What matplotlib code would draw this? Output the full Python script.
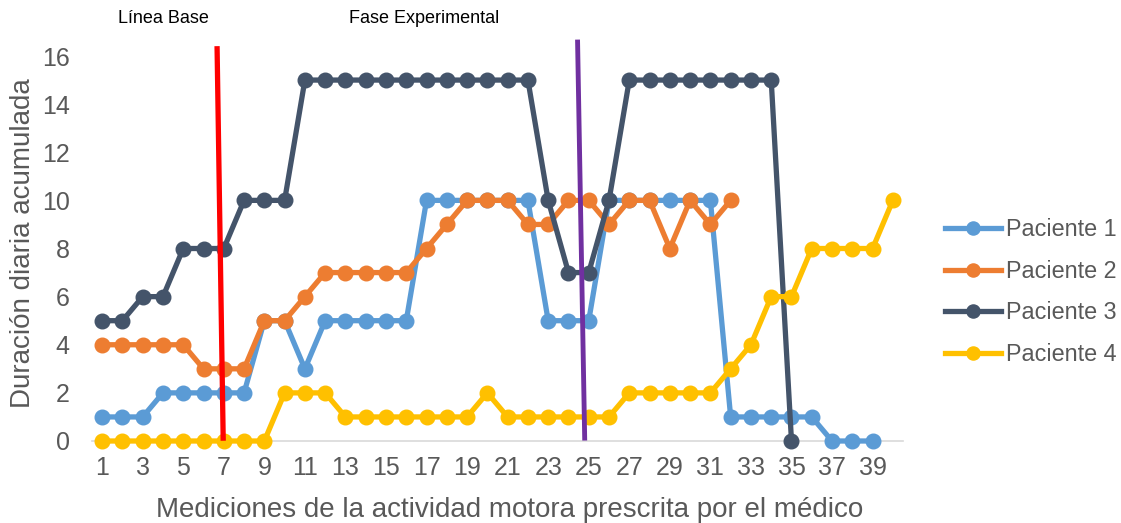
import matplotlib.pyplot as plt

plt.rcParams['font.family'] = ['Liberation Sans', 'DejaVu Sans']

# mediciones 1..40
sessions = list(range(1, 41))

paciente_1 = [1, 1, 1, 2, 2, 2, 2, 2, 5, 5, 3, 5, 5, 5, 5, 5, 10, 10, 10, 10,
              10, 10, 5, 5, 5, 10, 10, 10, 10, 10, 10, 1, 1, 1, 1, 1, 0, 0, 0]
paciente_2 = [4, 4, 4, 4, 4, 3, 3, 3, 5, 5, 6, 7, 7, 7, 7, 7, 8, 9, 10, 10,
              10, 9, 9, 10, 10, 9, 10, 10, 8, 10, 9, 10]
paciente_3 = [5, 5, 6, 6, 8, 8, 8, 10, 10, 10, 15, 15, 15, 15, 15, 15, 15, 15,
              15, 15, 15, 15, 10, 7, 7, 10, 15, 15, 15, 15, 15, 15, 15, 15, 0]
paciente_4 = [0, 0, 0, 0, 0, 0, 0, 0, 0, 2, 2, 2, 1, 1, 1, 1, 1, 1, 1, 2,
              1, 1, 1, 1, 1, 1, 2, 2, 2, 2, 2, 3, 4, 6, 6, 8, 8, 8, 8, 10]

series = [
    ('Paciente 1', paciente_1, '#5B9BD5'),
    ('Paciente 2', paciente_2, '#ED7D31'),
    ('Paciente 3', paciente_3, '#44546A'),
    ('Paciente 4', paciente_4, '#FFC000'),
]

# phase separators drawn by hand (x top, x bottom, y top, y bottom)
baseline_sep = ([6.67, 6.97], [16.3, 0.12])
experimental_sep = ([24.45, 24.8], [16.58, 0.12])

TEXT = '#595959'

fig = plt.figure(figsize=(11.21, 5.23), dpi=100)
ax = fig.add_axes([92 / 1121, 1 - 441 / 523, 811 / 1121, 385 / 523])

for name, values, color in series:
    ax.plot(sessions[:len(values)], values, color=color, lw=3.8,
            marker='o', ms=10.5, label=name, clip_on=False, zorder=3)

ax.plot(*baseline_sep, color='#FF0000', lw=3.8, clip_on=False, zorder=4)
ax.plot(*experimental_sep, color='#7030A0', lw=3.5, clip_on=False, zorder=4)

ax.text(4.0, 17.55, 'Línea Base', ha='center', va='center', fontsize=13,
        color='black', clip_on=False)
ax.text(16.9, 17.55, 'Fase Experimental', ha='center', va='center',
        fontsize=13, color='black', clip_on=False)

ax.set_xlim(0.5, 40.5)
ax.set_ylim(0, 16)
ax.set_xticks(range(1, 40, 2))
ax.set_yticks(range(0, 17, 2))
ax.tick_params(length=0, labelsize=18, colors=TEXT)
ax.tick_params(axis='x', pad=11)
ax.tick_params(axis='y', pad=16)
for side in ['top', 'right', 'left']:
    ax.spines[side].set_visible(False)
ax.spines['bottom'].set_color('#D9D9D9')
ax.spines['bottom'].set_linewidth(1.2)

ax.set_xlabel('Mediciones de la actividad motora prescrita por el médico',
              fontsize=20, color=TEXT, labelpad=12)
ax.xaxis.label.set_x(0.515)
ax.set_ylabel('Duración diaria acumulada', fontsize=20, color=TEXT,
              labelpad=4)
ax.yaxis.label.set_y(0.515)

ax.legend(loc='center left', bbox_to_anchor=(945 / 1121, 1 - 292 / 523),
          bbox_transform=fig.transFigure, borderpad=0, borderaxespad=0,
          frameon=False, fontsize=16.8, labelcolor=TEXT, handlelength=2.4,
          handletextpad=0.2, labelspacing=0.8, markerscale=0.9)

fig.savefig('out.png', dpi=100)
